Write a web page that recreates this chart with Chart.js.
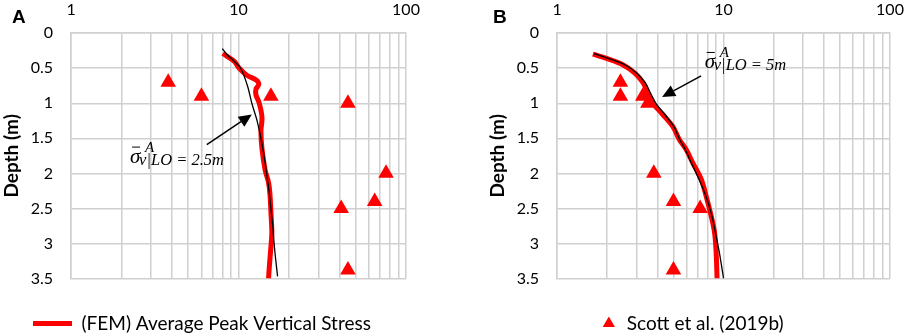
<!DOCTYPE html>
<html>
<head>
<meta charset="utf-8">
<script src="https://cdn.jsdelivr.net/npm/chart.js@4"></script>
<style>
  html, body { margin: 0; padding: 0; background: #fff; overflow: hidden; }
  .row { display: flex; width: 906px; height: 335px; }
  .panel { position: relative; width: 453px; height: 335px; }
</style>
</head>
<body>
<div class="row">
  <div class="panel"><canvas id="chartA"></canvas></div>
  <div class="panel"><canvas id="chartB"></canvas></div>
</div>
<script>
// log axis grid values and labelled decades
const gridValues = [1, 2, 3, 4, 5, 6, 7, 8, 9, 10, 20, 30, 40, 50, 60, 70, 80, 90, 100];
const decadeLabels = [1, 10, 100];

// panel A - FEM average peak vertical stress
const femDepthA = [0.29, 0.4, 0.5, 0.6, 0.67, 0.73, 0.8, 0.88, 1.0, 1.2, 1.4, 1.65, 1.95, 2.13, 2.3, 2.55, 2.84, 3.05, 3.3, 3.5];
const femStressA = [8.05, 9.4, 10.1, 11.2, 12.8, 13.2, 12.7, 12.7, 13.3, 13.8, 13.6, 13.8, 14.4, 15.1, 15.4, 15.6, 15.8, 15.6, 15.3, 15.1];
// panel A - analytical curve (LO = 2.5 m)
const fitDepthA = [0.22, 0.3, 0.4, 0.5, 0.75, 1.0, 1.25, 1.5, 1.75, 2.0, 2.25, 2.5, 2.75, 3.0, 3.25, 3.47];
const fitStressA = [8.0, 8.5, 9.4, 10.3, 11.3, 12.0, 12.9, 13.6, 14.2, 14.7, 15.2, 15.6, 16.0, 16.3, 16.7, 17.1];

// panel B - FEM
const femDepthB = [0.3, 0.36, 0.45, 0.57, 0.71, 0.86, 1.0, 1.16, 1.33, 1.52, 1.66, 1.85, 2.08, 2.32, 2.6, 2.84, 3.12, 3.5];
const femStressB = [1.64, 1.98, 2.48, 2.93, 3.29, 3.52, 3.76, 4.31, 4.95, 5.43, 5.96, 6.53, 7.33, 7.85, 8.41, 8.82, 9.02, 9.14];
// panel B - analytical curve (LO = 5 m)
const fitDepthB = [0.29, 0.36, 0.45, 0.57, 0.71, 0.86, 1.0, 1.16, 1.33, 1.52, 1.66, 1.85, 2.08, 2.32, 2.6, 2.84, 3.12, 3.5];
const fitStressB = [1.67, 2.03, 2.55, 3.01, 3.39, 3.65, 3.92, 4.44, 5.02, 5.46, 5.89, 6.4, 7.1, 7.82, 8.5, 8.92, 9.42, 10.0];

// Scott et al. (2019b) measurements
const scottDepth = [0.7, 0.9, 0.9, 1.0, 2.0, 2.4, 2.5, 3.38];
const scottStressA = [3.8, 6.0, 15.6, 45, 76, 65, 41, 45];
const scottStressB = [2.4, 2.4, 3.27, 3.51, 3.81, 5.0, 7.23, 5.0];

// annotation arrows: [stress, depth]
const arrowA = { tail: [6.46, 1.59], tip: [12.0, 1.16] };
const arrowB = { tail: [7.33, 0.61], tip: [4.27, 0.91] };
const labelA = { at: [2.25, 1.846], sub: 'v|LO = 2.5m' };
const labelB = { at: [7.71, 0.496], sub: 'v|LO = 5m' };

Chart.defaults.font.family = 'Lato';
Chart.defaults.color = '#000';

const toPts = (xs, ys) => xs.map((x, i) => ({ x: x, y: ys[i] }));

const annotPlugin = {
  id: 'annot',
  afterLayout(chart, args, opts) {
    // nudge the legend row sideways so it sits where the figure has it
    if (opts.legendShift) {
      chart.legend.left += opts.legendShift;
      chart.legend.right += opts.legendShift;
    }
  },
  afterDatasetsDraw(chart, args, opts) {
    const ctx = chart.ctx;
    const sx = chart.scales.x, sy = chart.scales.y;
    ctx.save();
    // arrow
    const x0 = sx.getPixelForValue(opts.arrow.tail[0]), y0 = sy.getPixelForValue(opts.arrow.tail[1]);
    const x1 = sx.getPixelForValue(opts.arrow.tip[0]), y1 = sy.getPixelForValue(opts.arrow.tip[1]);
    const ang = Math.atan2(y1 - y0, x1 - x0);
    const hl = 13, hw = 6;
    ctx.strokeStyle = '#000';
    ctx.fillStyle = '#000';
    ctx.lineWidth = 1.5;
    ctx.beginPath();
    ctx.moveTo(x0, y0);
    ctx.lineTo(x1 - Math.cos(ang) * hl, y1 - Math.sin(ang) * hl);
    ctx.stroke();
    ctx.beginPath();
    ctx.moveTo(x1, y1);
    ctx.lineTo(x1 - Math.cos(ang) * hl - Math.sin(ang) * hw, y1 - Math.sin(ang) * hl + Math.cos(ang) * hw);
    ctx.lineTo(x1 - Math.cos(ang) * hl + Math.sin(ang) * hw, y1 - Math.sin(ang) * hl - Math.cos(ang) * hw);
    ctx.closePath();
    ctx.fill();
    // sigma label
    const lx = sx.getPixelForValue(opts.label.at[0]), ly = sy.getPixelForValue(opts.label.at[1]);
    ctx.textBaseline = 'alphabetic';
    ctx.textAlign = 'left';
    ctx.font = 'italic 21px "Liberation Serif"';
    ctx.fillText('σ', lx, ly);
    ctx.lineWidth = 1;
    ctx.beginPath();
    ctx.moveTo(lx + 2, ly - 15.5);
    ctx.lineTo(lx + 10, ly - 15.5);
    ctx.stroke();
    ctx.font = 'italic 15px "Liberation Serif"';
    ctx.fillText('A', lx + 15, ly - 11);
    ctx.font = 'italic 16.5px "Liberation Serif"';
    ctx.fillText(opts.label.sub, lx + 9, ly + 2);
    // panel letter
    ctx.font = 'bold 19px "Liberation Sans"';
    ctx.fillText(opts.letter, opts.letterX, 23);
    ctx.restore();
  }
};

function makeChart(id, femX, femY, fitX, fitY, scottX, annot, pad, legendFor) {
  const legendDefaults = Chart.defaults.plugins.legend.labels.generateLabels;
  return new Chart(document.getElementById(id), {
    type: 'line',
    data: {
      datasets: [{
        label: '(FEM) Average Peak Vertical Stress',
        data: toPts(femX, femY),
        borderColor: '#ff0000',
        backgroundColor: '#ff0000',
        borderWidth: 5,
        pointRadius: 0,
        tension: 0.35,
        order: 2
      }, {
        label: 'Scott et al. (2019b)',
        data: toPts(scottX, scottDepth),
        showLine: false,
        pointStyle: 'triangle',
        pointRadius: 9,
        pointBackgroundColor: '#ff0000',
        backgroundColor: '#ff0000',
        borderColor: '#ff0000',
        pointBorderWidth: 0,
        order: 1
      }, {
        label: 'fit',
        data: toPts(fitX, fitY),
        borderColor: '#000',
        borderWidth: 1.3,
        pointRadius: 0,
        tension: 0.3,
        order: 0
      }]
    },
    options: {
      responsive: false,
      animation: false,
      layout: { padding: pad },
      scales: {
        x: {
          type: 'logarithmic',
          position: 'top',
          min: 1,
          max: 100,
          afterBuildTicks: (scale) => { scale.ticks = gridValues.map(v => ({ value: v })); },
          grid: { color: '#d0d0d0', lineWidth: 1.5, drawTicks: true, tickLength: 14, tickColor: 'rgba(0,0,0,0)' },
          border: { color: '#d0d0d0', width: 1.5 },
          ticks: {
            autoSkip: false,
            maxRotation: 0,
            padding: 0,
            font: { size: 16 },
            callback: (v) => decadeLabels.includes(v) ? String(v) : ''
          }
        },
        y: {
          reverse: true,
          min: 0,
          max: 3.5,
          grid: { color: '#d0d0d0', lineWidth: 1.5, drawTicks: true, tickLength: 18, tickColor: 'rgba(0,0,0,0)' },
          border: { color: '#d0d0d0', width: 1.5 },
          ticks: {
            stepSize: 0.5,
            padding: 0,
            font: { size: 16 },
            callback: (v) => String(Math.round(v * 10) / 10)
          },
          title: {
            display: true,
            text: 'Depth (m)',
            font: { size: 19, weight: 'bold' },
            padding: { top: 0, bottom: 8 }
          }
        }
      },
      plugins: {
        tooltip: { enabled: false },
        annot: annot,
        legend: {
          position: 'bottom',
          align: legendFor === 0 ? 'start' : 'center',
          title: { display: true, text: ' ', font: { size: 1 }, padding: { top: 1.3, bottom: 0 } },
          labels: {
            font: { size: 19 },
            padding: 33,
            boxWidth: legendFor === 0 ? 39 : 17,
            boxHeight: legendFor === 0 ? 5 : 10,
            usePointStyle: legendFor === 1,
            generateLabels: (chart) => legendDefaults(chart)
              .filter(l => l.datasetIndex === legendFor)
              .map(l => Object.assign(l, { lineWidth: 0 }))
          }
        }
      }
    },
    plugins: [annotPlugin]
  });
}

const cA = document.getElementById('chartA');
cA.width = 453; cA.height = 335;
const cB = document.getElementById('chartB');
cB.width = 453; cB.height = 335;

makeChart('chartA', femStressA, femDepthA, fitStressA, fitDepthA, scottStressA,
  { arrow: arrowA, label: labelA, letter: 'A', letterX: 12 },
  { left: 0, right: 47, top: 0, bottom: -8 }, 0);
makeChart('chartB', femStressB, femDepthB, fitStressB, fitDepthB, scottStressB,
  { arrow: arrowB, label: labelB, letter: 'B', letterX: 40, legendShift: 4 },
  { left: 33, right: 16, top: 0, bottom: -8 }, 1);
</script>
</body>
</html>
